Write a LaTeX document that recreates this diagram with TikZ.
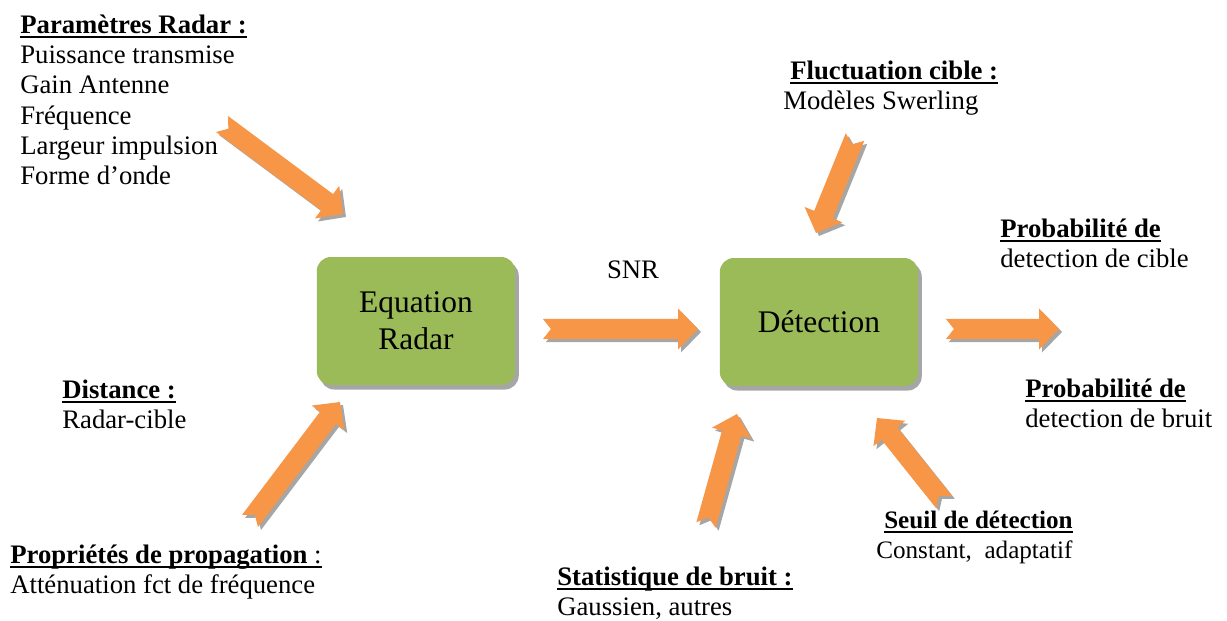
\documentclass[tikz,border=0pt]{standalone}
\usepackage{fontspec}
\setmainfont{Liberation Serif}
\usetikzlibrary{calc,shadows}

\definecolor{boxgreen}{HTML}{9BBB59}
\definecolor{arroworange}{HTML}{F79646}
\definecolor{shadowgray}{HTML}{A6A6A6}

\newcommand{\lblfont}{\fontsize{15.2}{17.2}\selectfont}
\newcommand{\boxfont}{\fontsize{17.9}{21}\selectfont}
\newsavebox{\ulsave}
\newcommand{\ulbox}[1]{\sbox{\ulsave}{#1}\rlap{\rule[-2.4pt]{\wd\ulsave}{1.1pt}}\usebox{\ulsave}}
\newcommand{\ttl}[1]{\ulbox{\textbf{#1}}}

% wide orange arrow with notched tail, from #1 to #2
\newcommand{\fatarrow}[2]{%
  \foreach \dx/\dy/\col in {1.7pt/-1.7pt/shadowgray, 0pt/0pt/arroworange}{%
    \fill[fill=\col, transform canvas={xshift=\dx, yshift=\dy}]
      ($(#1)!5.7pt!90:(#2)$)
      -- ($(#2)!11.3pt!(#1)!5.7pt!-90:(#1)$)
      -- ($(#2)!11.3pt!(#1)!11.6pt!-90:(#1)$)
      -- (#2)
      -- ($(#2)!11.3pt!(#1)!11.6pt!90:(#1)$)
      -- ($(#2)!11.3pt!(#1)!5.7pt!90:(#1)$)
      -- ($(#1)!5.7pt!-90:(#2)$)
      -- ($(#1)!4.5pt!(#2)$) -- cycle;
  }%
}

\tikzset{
  procbox/.style={rectangle, rounded corners=8pt, fill=boxgreen,
    minimum width=3.97cm, minimum height=2.56cm, align=center, font=\boxfont,
    drop shadow={shadow xshift=2pt, shadow yshift=-2.6pt, fill=shadowgray, opacity=1}},
  lbl/.style={anchor=north west, inner sep=0pt, align=left, font=\lblfont},
}

\begin{document}
\begin{tikzpicture}[x=0.02cm, y=-0.02cm]
  \useasboundingbox (0,0) rectangle (1227,621);

  % processing blocks
  \node[procbox] (eq) at (416,321) {Equation\\Radar};
  \node[procbox] (det) at (819,322) {Détection};

  % inputs and outputs
  \node[lbl] (params) at (20,12) {\strut\ttl{Paramètres Radar :}\\Puissance transmise\\Gain Antenne\\Fréquence\\Largeur impulsion\\Forme d’onde};
  \node[lbl] (fluct) at (783,58) {\strut\hspace*{4pt}\ttl{Fluctuation cible :}\\Modèles Swerling};
  \node[lbl] (pcible) at (1000,216) {\strut\ttl{Probabilité de}\\detection de cible};
  \node[lbl] (pbruit) at (1025,376) {\strut\ttl{Probabilité de}\\detection de bruit};
  \node[lbl] (dist) at (62,377) {\strut\ttl{Distance :}\\Radar-cible};
  \node[lbl] (propag) at (10,542) {\strut\ulbox{\textbf{Propriétés de propagation} :}\\Atténuation fct de fréquence};
  \node[lbl] (stat) at (557,564) {\strut\ttl{Statistique de bruit :}\\Gaussien, autres};
  \node[lbl, font=\fontsize{14.3}{17.2}\selectfont] (seuil) at (876,507) {\strut\hspace*{4.5pt}\ttl{Seuil de détection}\\Constant,\ \ adaptatif};
  \node[font=\lblfont, inner sep=0pt] (snr) at (633,270) {SNR};

  % arrow ends
  \coordinate (params-t) at (222,124);
  \coordinate (params-h) at (343,214);
  \coordinate (fluct-t) at (855,137);
  \coordinate (fluct-h) at (816,233);
  \coordinate (dist-t) at (250,521);
  \coordinate (dist-h) at (340,402);
  \coordinate (stat-t) at (706,525);
  \coordinate (stat-h) at (737,414);
  \coordinate (seuil-t) at (944,502);
  \coordinate (seuil-h) at (877,418);
  \coordinate (snr-t) at (543,329);
  \coordinate (snr-h) at (698,329);
  \coordinate (out-t) at (946,329);
  \coordinate (out-h) at (1059,329);

  % arrows
  \fatarrow{params-t}{params-h}
  \fatarrow{fluct-t}{fluct-h}
  \fatarrow{dist-t}{dist-h}
  \fatarrow{stat-t}{stat-h}
  \fatarrow{seuil-t}{seuil-h}
  \fatarrow{snr-t}{snr-h}
  \fatarrow{out-t}{out-h}
\end{tikzpicture}
\end{document}
